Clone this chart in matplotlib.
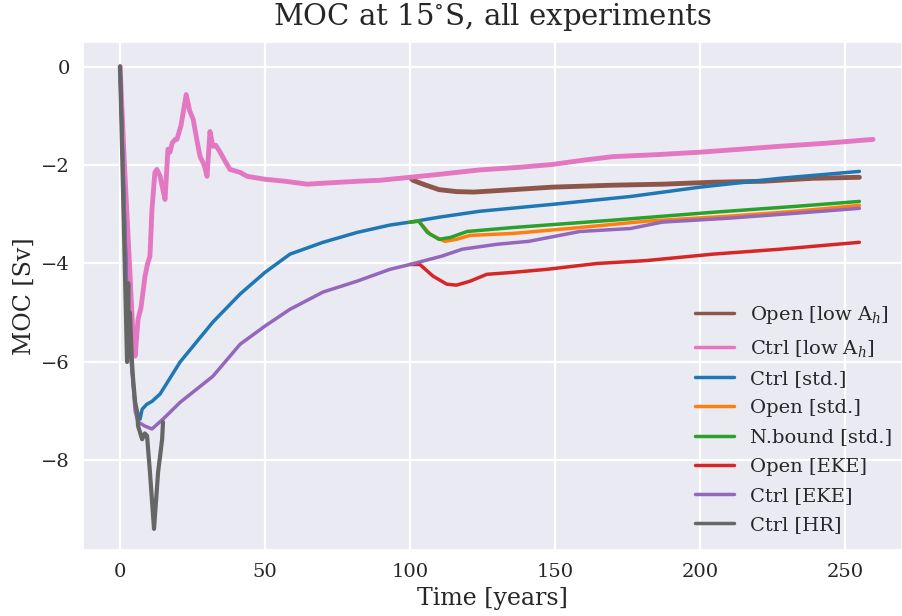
import numpy as np
import matplotlib.pyplot as plt
import seaborn as sns

# data (time in years, MOC in Sv)
t_pink = [0, 1.5, 3.4, 4.3, 5.2, 6.2, 7.2, 8.6, 9.5, 10.3, 11, 12, 12.7, 13.8, 14.5, 15.5, 16.5,
          17.2, 18, 19, 19.6, 21, 22.8, 24, 25.2, 26.5, 27.6, 29, 30, 31, 32, 33, 34.5, 36, 37.9,
          41.4, 43.8, 50, 57, 64.5, 70, 75.9, 82, 89.7, 100, 110, 124, 137, 149, 160, 170, 185,
          200, 214, 227.6, 243, 259.7]
moc_pink = [0, -2.0, -4.2, -5.3, -5.88, -5.13, -4.9, -4.26, -4.0, -3.85, -2.9, -2.15, -2.09, -2.23,
            -2.43, -2.7, -1.68, -1.74, -1.55, -1.48, -1.48, -1.2, -0.57, -0.9, -1.07, -1.5, -1.83,
            -2.0, -2.23, -1.32, -1.62, -1.6, -1.74, -1.9, -2.09, -2.15, -2.23, -2.29, -2.33, -2.39,
            -2.37, -2.35, -2.33, -2.31, -2.25, -2.19, -2.1, -2.05, -1.99, -1.9, -1.83, -1.79, -1.74,
            -1.68, -1.62, -1.56, -1.48]

t_brown = [100, 101, 105, 110, 116, 122, 135.6, 149, 170, 187, 204.5, 221.7, 239, 255]
moc_brown = [-2.25, -2.31, -2.4, -2.5, -2.54, -2.55, -2.5, -2.45, -2.41, -2.39, -2.35, -2.33, -2.27, -2.25]

t_blue = [0, 2.5, 5.2, 6.9, 7.6, 9.2, 11, 13.8, 20.7, 32, 41.4, 50, 58.6, 70, 81.7, 93, 100,
          110, 124, 149, 176, 200, 227.6, 255]
moc_blue = [0, -5.0, -6.9, -7.16, -6.96, -6.86, -6.8, -6.65, -6.0, -5.19, -4.62, -4.18, -3.81, -3.57,
            -3.37, -3.22, -3.16, -3.06, -2.94, -2.8, -2.64, -2.45, -2.27, -2.13]

t_orange = [100, 103, 107, 112, 116, 120.7, 135.5, 158.6, 181.7, 210, 233, 255]
moc_orange = [-3.16, -3.14, -3.41, -3.55, -3.51, -3.43, -3.39, -3.27, -3.14, -3.04, -2.94, -2.82]

t_green = [100, 103, 106, 110, 114, 119.7, 135.5, 170, 204.5, 233, 255]
moc_green = [-3.16, -3.14, -3.37, -3.51, -3.47, -3.35, -3.27, -3.12, -2.96, -2.84, -2.74]

t_red = [100, 103.4, 108, 112.7, 116, 120.7, 126.5, 135.5, 147, 164.5, 181.7, 204.5, 227.6, 255]
moc_red = [-4.02, -4.02, -4.26, -4.42, -4.44, -4.36, -4.22, -4.18, -4.12, -4.0, -3.94, -3.81, -3.71, -3.57]

t_purple = [0, 2.5, 5.2, 6.2, 8.5, 11, 14.8, 20.7, 32, 41.4, 50, 58.6, 70, 81.7, 93, 100,
            111, 118, 130, 141, 158.6, 176, 187, 210, 233, 255]
moc_purple = [0, -5.0, -7.0, -7.22, -7.3, -7.36, -7.16, -6.82, -6.29, -5.64, -5.27, -4.93, -4.58,
              -4.36, -4.12, -4.02, -3.85, -3.71, -3.61, -3.55, -3.35, -3.29, -3.16, -3.08, -2.98, -2.88]

t_gray = [0, 1.2, 2.4, 2.6, 2.8, 3.0, 3.4, 4.1, 4.5, 5.2, 5.9, 6.2, 7.6, 8.5, 9.3, 10.3, 11.7,
          13.1, 14.5, 14.8]
moc_gray = [0, -3.0, -6.0, -5.3, -4.4, -5.9, -5.0, -6.0, -6.35, -6.82, -7.02, -7.3, -7.57, -7.45,
            -7.5, -8.24, -9.39, -8.24, -7.57, -7.22]

sns.set_theme(style='darkgrid')
plt.rcParams['font.family'] = ['DejaVu Serif']
plt.rcParams['mathtext.fontset'] = 'dejavuserif'
plt.rcParams['grid.linewidth'] = 1.6

tab = plt.get_cmap('tab10').colors

fig = plt.figure(figsize=(9.02, 6.16), dpi=100)
ax = fig.add_axes([0.092, 0.107, 0.908, 0.825])

ax.plot(t_brown, moc_brown, color=tab[5], lw=3.5, label='Open [low A$_h$]')
ax.plot(t_pink, moc_pink, color=tab[6], lw=3.5, label='Ctrl [low A$_h$]')
ax.plot(t_blue, moc_blue, color=tab[0], lw=2.5, label='Ctrl [std.]')
ax.plot(t_orange, moc_orange, color=tab[1], lw=2.5, label='Open [std.]')
ax.plot(t_green, moc_green, color=tab[2], lw=2.5, label='N.bound [std.]')
ax.plot(t_red, moc_red, color=tab[3], lw=2.5, label='Open [EKE]')
ax.plot(t_purple, moc_purple, color=tab[4], lw=2.5, label='Ctrl [EKE]')
ax.plot(t_gray, moc_gray, color='#666666', lw=3, label='Ctrl [HR]')

ax.set_xlim(-12.8, 269.7)
ax.set_ylim(-9.82, 0.5)
ax.set_xticks([0, 50, 100, 150, 200, 250])
ax.set_yticks([0, -2, -4, -6, -8])
ax.tick_params(labelsize=14)
ax.set_xlabel('Time [years]', fontsize=17)
ax.set_ylabel('MOC [Sv]', fontsize=17)
ax.set_title('MOC at 15$^{\\circ}$S, all experiments', fontsize=21, pad=12)

leg = ax.legend(loc='lower right', fontsize=14, frameon=False, handlelength=2.0,
                labelspacing=0.58, borderaxespad=0.0, bbox_to_anchor=(0.997, 0.016))
for line in leg.get_lines():
    line.set_linewidth(2.5)

fig.savefig('out.png', dpi=100)
